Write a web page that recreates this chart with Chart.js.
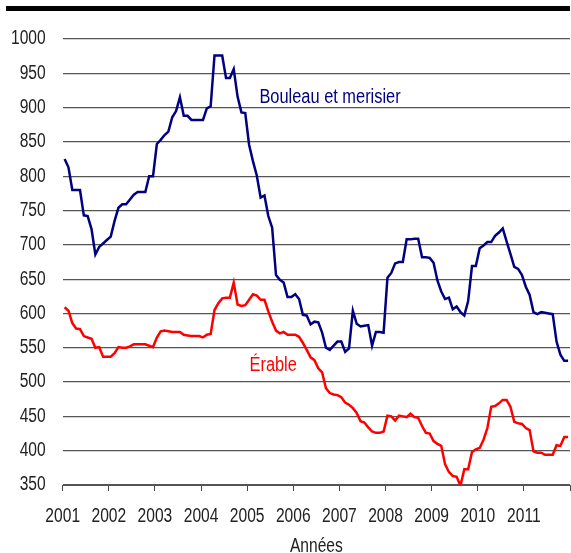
<!DOCTYPE html>
<html>
<head>
<meta charset="utf-8">
<script src="https://cdn.jsdelivr.net/npm/chart.js@4"></script>
<style>
  body { margin: 0; background: #fff; }
  #wrap { position: relative; width: 571px; height: 553px; }
  #bar { position: absolute; left: 6px; top: 6px; width: 564px; height: 5px; background: #000; }
</style>
</head>
<body>
<div id="wrap">
  <div id="bar"></div>
  <canvas id="chart" width="571" height="553"></canvas>
</div>
<script>
// monthly prices, jan 2001 -> dec 2011
const years = ['2001', '2002', '2003', '2004', '2005', '2006', '2007', '2008', '2009', '2010', '2011'];
const yTicks = [350, 400, 450, 500, 550, 600, 650, 700, 750, 800, 850, 900, 950, 1000];

const bouleau = [
  825, 813, 780, 780, 780, 743, 742, 723, 686, 697, 702, 707,
  712, 735, 754, 759, 759, 766, 773, 777, 777, 777, 800, 800,
  847, 853, 860, 865, 886, 895, 915, 888, 888, 882, 882, 882,
  882, 899, 902, 976, 976, 976, 943, 943, 956, 916, 893, 892,
  846, 822, 801, 769, 772, 742, 725, 656, 649, 645, 624, 624,
  628, 621, 598, 597, 584, 588, 587, 572, 550, 547, 553, 559,
  559, 544, 549, 604, 585, 581, 582, 583, 553, 573, 573, 572,
  652, 659, 673, 675, 675, 708, 708, 709, 709, 682, 682, 681,
  674, 648, 632, 621, 623, 606, 610, 602, 597, 618, 669, 669,
  695, 699, 704, 704, 713, 718, 724, 705, 687, 668, 665, 656,
  639, 627, 602, 599, 602, 601, 600, 599, 559, 540, 531, 531
];

const erable = [
  609, 604, 586, 578, 577, 567, 565, 563, 550, 551, 537, 537,
  537, 542, 551, 550, 550, 552, 555, 555, 555, 555, 553, 551,
  565, 574, 575, 574, 573, 573, 573, 569, 568, 567, 567, 567,
  565, 569, 570, 605, 615, 622, 623, 623, 645, 613, 611, 612,
  620, 628, 626, 620, 620, 603, 588, 575, 571, 573, 569, 569,
  569, 566, 557, 547, 536, 532, 520, 514, 491, 484, 482, 481,
  478, 470, 467, 462, 455, 443, 441, 434, 428, 426, 426, 428,
  451, 450, 444, 451, 450, 449, 454, 449, 448, 436, 426, 425,
  414, 410, 407, 380, 369, 363, 362, 349, 373, 373, 398, 402,
  404, 416, 433, 464, 465, 469, 474, 474, 464, 442, 440, 439,
  433, 430, 399, 397, 397, 394, 394, 394, 408, 407, 420, 420
];

const firstYear = Number(years[0]);
function toPoints(values) {
  return values.map((v, i) => ({ x: firstYear + (i + 0.5) / 12, y: v }));
}

const FONT = "'Liberation Sans', Arial, sans-serif";
Chart.defaults.font.family = FONT;

// the original uses a narrow face; squeeze Liberation Sans horizontally
function narrowText(ctx, text, x, y, opts) {
  ctx.save();
  ctx.font = opts.size + 'px ' + FONT;
  ctx.fillStyle = opts.color;
  ctx.textAlign = opts.align;
  ctx.textBaseline = opts.baseline;
  ctx.translate(x, y);
  ctx.scale(opts.squeeze, 1);
  ctx.fillText(text, 0, 0);
  ctx.restore();
}

const textLayer = {
  id: 'textLayer',
  afterDraw(chart) {
    const { ctx, scales, chartArea } = chart;
    const tick = { size: 19.5, color: '#222', squeeze: 0.8 };
    // y tick labels
    yTicks.forEach(v => {
      narrowText(ctx, String(v), chartArea.left - 17, scales.y.getPixelForValue(v),
        Object.assign({ align: 'right', baseline: 'middle' }, tick));
    });
    // x tick labels
    years.forEach((y, i) => {
      narrowText(ctx, y, scales.x.getPixelForValue(firstYear + i), chartArea.bottom + 36.7,
        Object.assign({ align: 'center', baseline: 'alphabetic' }, tick));
    });
    // axis title
    narrowText(ctx, 'Années', (chartArea.left + chartArea.right) / 2, chartArea.bottom + 66.7,
      Object.assign({ align: 'center', baseline: 'alphabetic' }, tick));
    // series names
    narrowText(ctx, 'Bouleau et merisier', scales.x.getPixelForValue(2005.265), scales.y.getPixelForValue(906.5),
      { size: 20, color: '#000080', squeeze: 0.82, align: 'left', baseline: 'alphabetic' });
    narrowText(ctx, 'Érable', scales.x.getPixelForValue(2005.05), scales.y.getPixelForValue(516.5),
      { size: 20, color: '#ff0000', squeeze: 0.82, align: 'left', baseline: 'alphabetic' });
  }
};

new Chart(document.getElementById('chart'), {
  type: 'line',
  data: {
    datasets: [
      { label: 'Bouleau et merisier', data: toPoints(bouleau), borderColor: '#000080', borderWidth: 2.5, pointRadius: 0, tension: 0 },
      { label: 'Érable', data: toPoints(erable), borderColor: '#ff0000', borderWidth: 2.5, pointRadius: 0, tension: 0 }
    ]
  },
  options: {
    responsive: false,
    animation: false,
    devicePixelRatio: 1,
    layout: { padding: { top: 39, right: 1, left: 0, bottom: 0 } },
    plugins: { legend: { display: false }, tooltip: { enabled: false } },
    scales: {
      x: {
        type: 'linear',
        min: firstYear,
        max: firstYear + years.length,
        afterFit: s => { s.height = 68; },
        afterBuildTicks: s => { s.ticks = years.concat(['']).map((y, i) => ({ value: firstYear + i })); },
        ticks: { display: false },
        grid: { drawOnChartArea: false, drawTicks: true, tickLength: 6, color: '#444', lineWidth: 1 },
        border: { display: true, color: '#555', width: 1 }
      },
      y: {
        min: yTicks[0],
        max: yTicks[yTicks.length - 1],
        afterFit: s => { s.width = 62.7; },
        afterBuildTicks: s => { s.ticks = yTicks.map(v => ({ value: v })); },
        ticks: { display: false },
        grid: { drawTicks: false, color: '#555', lineWidth: 1.2 },
        border: { display: false }
      }
    }
  },
  plugins: [textLayer]
});
</script>
</body>
</html>
